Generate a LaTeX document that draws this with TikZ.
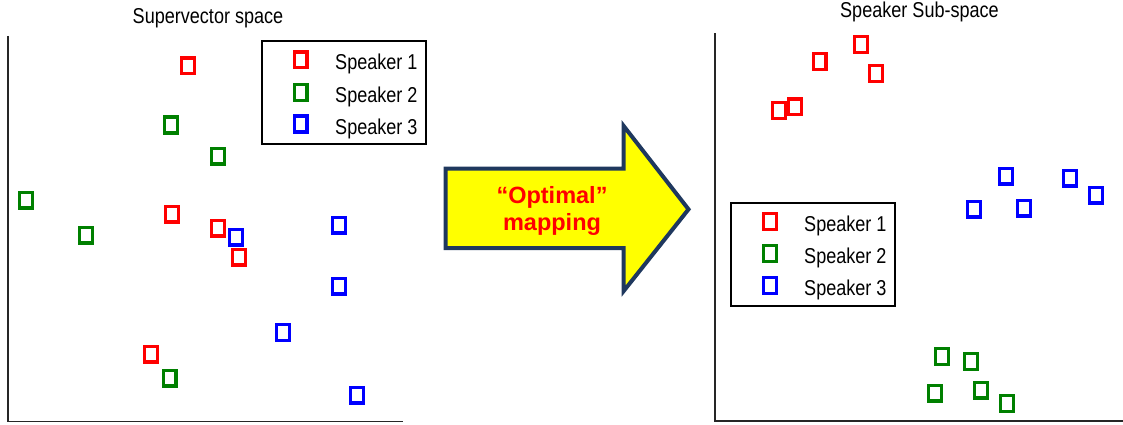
\documentclass[tikz,border=0pt]{standalone}
\usepackage{fontspec}
\setmainfont{Liberation Sans}[FakeStretch=0.84]
\newfontfamily\arrowfont{Liberation Sans}[FakeStretch=1.0]
\definecolor{spred}{RGB}{255,0,0}
\definecolor{spgreen}{RGB}{0,128,0}
\definecolor{spblue}{RGB}{0,0,255}
\definecolor{arrowborder}{RGB}{31,56,94}
\definecolor{arrowfill}{RGB}{255,255,0}
\tikzset{
  mk/.style={draw=#1, line width=3.1pt, minimum width=12.9pt, minimum height=15.9pt, inner sep=0pt, outer sep=0pt},
  legbox/.style={draw=black, line width=1.6pt, inner sep=0pt},
  legtext/.style={anchor=base west, inner sep=0pt, font=\fontsize{21.5}{25}\selectfont},
  titletext/.style={anchor=base, inner sep=0pt, font=\fontsize{21.5}{25}\selectfont},
  axis/.style={draw=black!85, line width=1.5pt},
  bigarrow/.style={draw=arrowborder, fill=arrowfill, line width=4pt, line join=miter},
  arrowtext/.style={text=spred, align=center, font=\arrowfont\bfseries\fontsize{23.5}{27}\selectfont, inner sep=0pt}
}
\begin{document}
\begin{tikzpicture}[x=1pt,y=-1pt]
\useasboundingbox (0,0) rectangle (1123,425);
% titles
\node[titletext] (t1) at (208,24) {Supervector space};
\node[titletext] (t2) at (919.5,18) {Speaker Sub-space};
% axes
\coordinate (la) at (8,36);
\coordinate (lo) at (8,421.5);
\coordinate (lb) at (402.5,421.5);
\draw[axis] (la) -- (lo) -- (lb);
\coordinate (ra) at (715,33.5);
\coordinate (ro) at (715,421);
\coordinate (rb) at (1123,421);
\draw[axis] (ra) -- (ro) -- (rb);
% left legend
\node[legbox, minimum width=164pt, minimum height=103pt] (lg1) at (344,92.5) {};
\node[mk=spred] (lm1) at (300.5,60) {};
\node[mk=spgreen] (lm2) at (300.5,92.5) {};
\node[mk=spblue] (lm3) at (300.5,124) {};
\node[legtext] (ll1) at (335,70) {Speaker 1};
\node[legtext] (ll2) at (335,102.5) {Speaker 2};
\node[legtext] (ll3) at (335,134) {Speaker 3};
% right legend
\node[legbox, minimum width=164pt, minimum height=103pt] (lg2) at (813,254.3) {};
\node[mk=spred] (rm1) at (770.3,221.7) {};
\node[mk=spgreen] (rm2) at (770.3,253.5) {};
\node[mk=spblue] (rm3) at (770.3,285.5) {};
\node[legtext] (rl1) at (804,231.7) {Speaker 1};
\node[legtext] (rl2) at (804,263.5) {Speaker 2};
\node[legtext] (rl3) at (804,295.5) {Speaker 3};
% left points
\node[mk=spred] (a1) at (188,66) {};
\node[mk=spred] (a2) at (172,214) {};
\node[mk=spred] (a3) at (218,228) {};
\node[mk=spred] (a4) at (239,257) {};
\node[mk=spred] (a5) at (151,354) {};
\node[mk=spgreen] (b1) at (171,125) {};
\node[mk=spgreen] (b2) at (218,156) {};
\node[mk=spgreen] (b3) at (26,200) {};
\node[mk=spgreen] (b4) at (86,235) {};
\node[mk=spgreen] (b5) at (169.5,378) {};
\node[mk=spblue] (c1) at (236,237) {};
\node[mk=spblue] (c2) at (339,225) {};
\node[mk=spblue] (c3) at (339,286) {};
\node[mk=spblue] (c4) at (282.7,332.8) {};
\node[mk=spblue] (c5) at (356.7,395) {};
% right points
\node[mk=spred] (d1) at (779,110.5) {};
\node[mk=spred] (d2) at (795.3,107) {};
\node[mk=spred] (d3) at (819.5,61.7) {};
\node[mk=spred] (d4) at (861,44.7) {};
\node[mk=spred] (d5) at (876,73.3) {};
\node[mk=spblue] (e1) at (974,209) {};
\node[mk=spblue] (e2) at (1006,176) {};
\node[mk=spblue] (e3) at (1024,208) {};
\node[mk=spblue] (e4) at (1070,178) {};
\node[mk=spblue] (e5) at (1096,195) {};
\node[mk=spgreen] (f1) at (942,356.3) {};
\node[mk=spgreen] (f2) at (971,361.3) {};
\node[mk=spgreen] (f3) at (935,393) {};
\node[mk=spgreen] (f4) at (980.7,390) {};
\node[mk=spgreen] (f5) at (1007.3,403.5) {};
% big arrow
\draw[bigarrow] (445.5,168.7) -- (623.7,168.7) -- (623.7,126) -- (688.5,209.3) -- (623.7,291) -- (623.7,248) -- (445.5,248) -- cycle;
\node[arrowtext, anchor=base] (m1) at (552,203.3) {“Optimal”};
\node[arrowtext, anchor=base] (m2) at (552,230.3) {mapping};
\end{tikzpicture}
\end{document}
